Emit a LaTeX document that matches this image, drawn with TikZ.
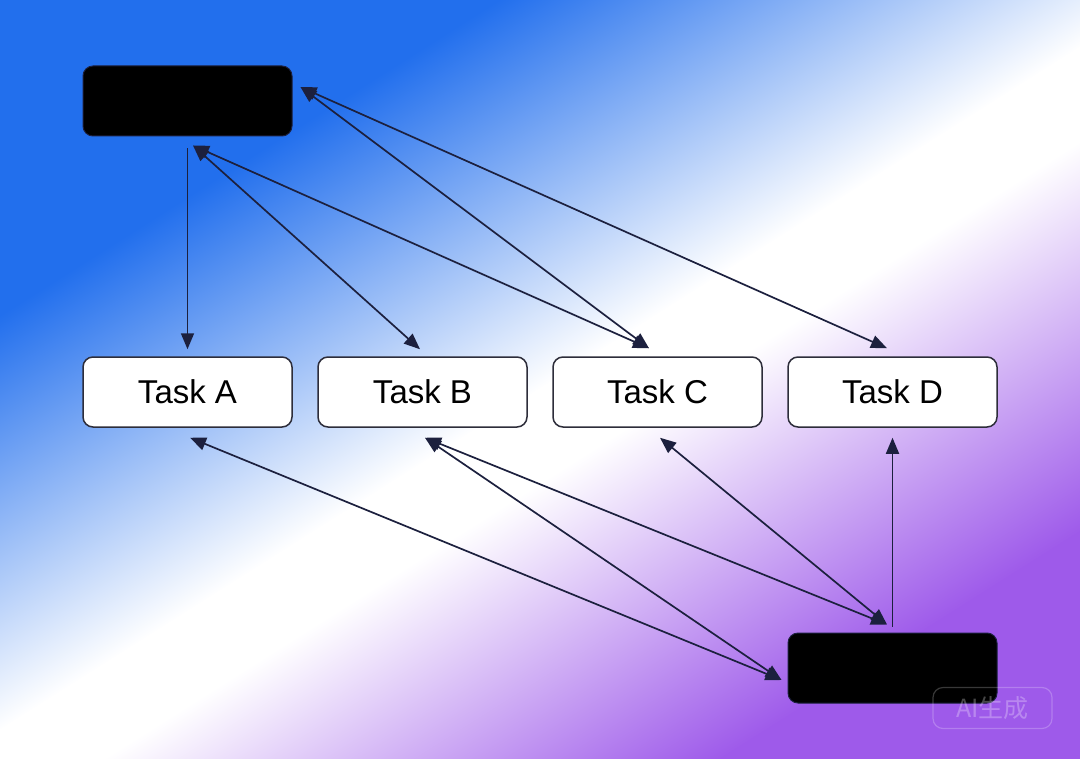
\documentclass[tikz,border=0pt]{standalone}
\usepackage{fontspec}
\setmainfont{Liberation Sans}
\newfontfamily\cjk{Noto Sans CJK SC}
\usetikzlibrary{arrows.meta}
\definecolor{bgblue}{RGB}{34,111,237}
\definecolor{bgpurple}{RGB}{158,90,234}
\definecolor{linkc}{RGB}{28,32,62}
\definecolor{boxline}{RGB}{45,45,58}

\begin{document}
\begin{tikzpicture}[x=0.5pt,y=0.5pt,
    taskbox/.style={draw=boxline,line width=0.75pt,fill=white,rounded corners=5pt,
      minimum width=104.5pt,minimum height=35pt,inner sep=0pt,font=\fontsize{16.5}{18}\selectfont},
    hidebox/.style={draw=linkc,line width=0.5pt,fill=black,rounded corners=5pt,
      minimum width=104.5pt,minimum height=35pt,inner sep=0pt},
    link/.style={draw=linkc,line width=0.85pt,-{Triangle[length=8pt,width=6.5pt]}},
    dlink/.style={link,{Triangle[length=8pt,width=6.5pt]}-{Triangle[length=8pt,width=6.5pt]}},
    wmark/.style={draw=white,draw opacity=0.22,text=white,text opacity=0.28,line width=0.6pt,
      rounded corners=5pt,minimum width=59.5pt,minimum height=20.5pt,inner sep=0pt,
      font=\cjk\fontsize{12.5}{14}\selectfont}]
      \useasboundingbox (0,0) rectangle (1080,-759);
      % background
      \begin{scope}
        \clip (0,0) rectangle (1080,-759);
        \begin{scope}[transform canvas={shift={(530,-335)},rotate=-57.7}]
          \fill[bgblue] (-1500,-1500) rectangle (-299,1500);
          \shade[left color=bgblue,right color=white] (-300,-1500) rectangle (51,1500);
          \fill[white] (50,-1500) rectangle (131,1500);
          \shade[left color=white,right color=bgpurple] (130,-1500) rectangle (461,1500);
          \fill[bgpurple] (460,-1500) rectangle (1500,1500);
        \end{scope}
      \end{scope}

      \node[hidebox] (top) at (187.5,-101) {};
      \node[hidebox] (bot) at (892.5,-668) {};
      \node[taskbox] (A) at (187.5,-392) {Task A};
      \node[taskbox] (B) at (422.5,-392) {Task B};
      \node[taskbox] (C) at (657.5,-392) {Task C};
      \node[taskbox] (D) at (892.5,-392) {Task D};
      \node[wmark] (ai) at (992.5,-708) {AI生成};

      \draw[link] ([shift={(0,-12)}]top.south) -- ([shift={(0,7)}]A.north);
      \draw[dlink] ([shift={(5.5,-9)}]top.south) -- ([shift={(-2.5,7)}]B.north);
      \draw[dlink] ([shift={(5.5,-9)}]top.south) -- ([shift={(-8.5,8)}]C.north);
      \draw[dlink] ([shift={(8,14)}]top.east) -- ([shift={(-8.5,8)}]C.north);
      \draw[dlink] ([shift={(8,14)}]top.east) -- ([shift={(-5.5,8)}]D.north);

      \draw[dlink] ([shift={(2.5,-10)}]A.south) -- ([shift={(-6,-12)}]bot.west);
      \draw[dlink] ([shift={(2.5,-10)}]B.south) -- ([shift={(-6,-12)}]bot.west);
      \draw[dlink] ([shift={(2.5,-10)}]B.south) -- ([shift={(-5.5,8)}]bot.north);
      \draw[dlink] ([shift={(2.5,-10)}]C.south) -- ([shift={(-5.5,8)}]bot.north);
      \draw[link] ([shift={(0,6)}]bot.north) -- ([shift={(0,-10)}]D.south);
\end{tikzpicture}
\end{document}
